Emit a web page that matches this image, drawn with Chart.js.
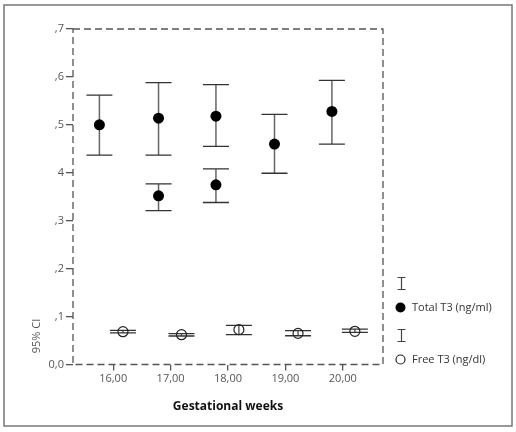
<!DOCTYPE html>
<html>
<head>
<meta charset="utf-8">
<script src="https://cdn.jsdelivr.net/npm/chart.js@4/dist/chart.umd.min.js"></script>
<style>
  html, body { margin: 0; padding: 0; background: #fff; }
  #wrap { width: 516px; height: 432px; }
</style>
</head>
<body>
<div id="wrap"><canvas id="c" width="516" height="432"></canvas></div>
<script>
// data
const xTicks = [16, 17, 18, 19, 20];
const xTickLabels = ['16,00', '17,00', '18,00', '19,00', '20,00'];
const yTicks = [0, 0.1, 0.2, 0.3, 0.4, 0.5, 0.6, 0.7];
const yTickLabels = ['0,0', ',1', ',2', ',3', '4', ',5', ',6', ',7'];

// Total T3 (ng/ml): mean and 95% CI
const totalX    = [15.76, 16.79, 16.79, 17.79, 17.79, 18.81, 19.81];
const totalMean = [0.500, 0.514, 0.352, 0.518, 0.375, 0.460, 0.528];
const totalLow  = [0.437, 0.437, 0.321, 0.455, 0.338, 0.399, 0.460];
const totalHigh = [0.562, 0.588, 0.377, 0.584, 0.408, 0.522, 0.593];

// Free T3 (ng/dl): mean and 95% CI
const freeX    = [16.17, 17.19, 18.19, 19.22, 20.21];
const freeMean = [0.0685, 0.0622, 0.0727, 0.065, 0.0693];
const freeLow  = [0.0658, 0.0595, 0.0622, 0.060, 0.0672];
const freeHigh = [0.0714, 0.0643, 0.0818, 0.0706, 0.074];

const FONT = '"Open Sans", "Noto Sans", sans-serif';
const GREY = '#555';

function pts(xs, ys) {
  return xs.map((x, i) => ({ x: x, y: ys[i] }));
}

// error bars + frame + legend
const extras = {
  id: 'extras',
  beforeDraw(chart) {
    const ctx = chart.ctx;
    ctx.save();
    ctx.fillStyle = '#fff';
    ctx.fillRect(0, 0, chart.width, chart.height);
    ctx.strokeStyle = '#777';
    ctx.lineWidth = 1.5;
    ctx.strokeRect(4, 5, 508, 421);
    ctx.restore();
  },
  beforeDatasetsDraw(chart) {
    const ctx = chart.ctx;
    const xs = chart.scales.x, ys = chart.scales.y;
    const a = chart.chartArea;
    ctx.save();
    // dashed plot frame
    ctx.strokeStyle = GREY;
    ctx.lineWidth = 1.3;
    ctx.setLineDash([7, 4]);
    ctx.strokeRect(a.left, a.top, a.right - a.left, a.bottom - a.top);
    ctx.setLineDash([]);

    const bars = [
      [totalX, totalLow, totalHigh],
      [freeX, freeLow, freeHigh]
    ];
    bars.forEach(([bx, lo, hi]) => {
      bx.forEach((x, i) => {
        const px = xs.getPixelForValue(x);
        const y1 = ys.getPixelForValue(lo[i]);
        const y2 = ys.getPixelForValue(hi[i]);
        ctx.strokeStyle = '#666';
        ctx.lineWidth = 1.5;
        ctx.beginPath();
        ctx.moveTo(px, y1);
        ctx.lineTo(px, y2);
        ctx.stroke();
        ctx.strokeStyle = '#333';
        ctx.lineWidth = 1.3;
        ctx.beginPath();
        ctx.moveTo(px - 13, y1);
        ctx.lineTo(px + 13, y1);
        ctx.moveTo(px - 13, y2);
        ctx.lineTo(px + 13, y2);
        ctx.stroke();
      });
    });
    ctx.restore();
  },
  afterDraw(chart) {
    const ctx = chart.ctx;
    ctx.save();
    // y axis title
    ctx.fillStyle = GREY;
    ctx.font = '11px ' + FONT;
    ctx.textAlign = 'center';
    ctx.textBaseline = 'middle';
    ctx.translate(37, 336);
    ctx.rotate(-Math.PI / 2);
    ctx.fillText('95% CI', 0, 0);
    ctx.restore();

    // legend
    ctx.save();
    const lx = 401.5;
    function errIcon(y1, y2) {
      ctx.strokeStyle = '#444';
      ctx.lineWidth = 1.2;
      ctx.beginPath();
      ctx.moveTo(lx, y1); ctx.lineTo(lx, y2);
      ctx.moveTo(lx - 4, y1); ctx.lineTo(lx + 4, y1);
      ctx.moveTo(lx - 4, y2); ctx.lineTo(lx + 4, y2);
      ctx.stroke();
    }
    errIcon(277.5, 289.5);
    errIcon(329.5, 341.5);
    ctx.fillStyle = '#000';
    ctx.beginPath();
    ctx.arc(400.5, 307.5, 5, 0, Math.PI * 2);
    ctx.fill();
    ctx.strokeStyle = '#222';
    ctx.lineWidth = 1.2;
    ctx.beginPath();
    ctx.arc(400.5, 359.5, 4.5, 0, Math.PI * 2);
    ctx.stroke();
    ctx.fillStyle = '#333';
    ctx.font = '11px ' + FONT;
    ctx.textAlign = 'left';
    ctx.textBaseline = 'middle';
    ctx.fillText('Total T3 (ng/ml)', 412, 308);
    ctx.fillText('Free T3 (ng/dl)', 412, 360);
    ctx.restore();
  }
};

new Chart(document.getElementById('c'), {
  type: 'scatter',
  data: {
    datasets: [
      {
        label: 'Total T3 (ng/ml)',
        data: pts(totalX, totalMean),
        pointStyle: 'circle',
        pointRadius: 5.5,
        pointBackgroundColor: '#000',
        pointBorderColor: '#000',
        pointBorderWidth: 0
      },
      {
        label: 'Free T3 (ng/dl)',
        data: pts(freeX, freeMean),
        pointStyle: 'circle',
        pointRadius: 5,
        pointBackgroundColor: 'rgba(0,0,0,0)',
        pointBorderColor: '#222',
        pointBorderWidth: 1.2
      }
    ]
  },
  options: {
    responsive: false,
    animation: false,
    devicePixelRatio: 1,
    layout: { padding: { top: 29, right: 133, left: 0, bottom: 0 } },
    plugins: { legend: { display: false }, tooltip: { enabled: false } },
    scales: {
      x: {
        type: 'linear',
        min: 15.3,
        max: 20.7,
        afterBuildTicks: (s) => { s.ticks = xTicks.map(v => ({ value: v })); },
        afterFit: (s) => { s.height = 67.5; },
        border: { display: false },
        grid: { drawOnChartArea: false, drawTicks: true, tickLength: 6, tickColor: GREY, lineWidth: 1.3 },
        ticks: {
          color: GREY,
          font: { family: FONT, size: 11 },
          padding: 2,
          maxRotation: 0,
          callback: (v) => xTickLabels[xTicks.indexOf(v)]
        },
        title: {
          display: true,
          text: 'Gestational weeks',
          color: '#111',
          font: { family: FONT, size: 12, weight: 'bold' },
          padding: { top: 0, bottom: 18 }
        }
      },
      y: {
        type: 'linear',
        min: 0,
        max: 0.7,
        afterBuildTicks: (s) => { s.ticks = yTicks.map(v => ({ value: v })); },
        afterFit: (s) => { s.width = 73; },
        border: { display: false },
        grid: { drawOnChartArea: false, drawTicks: true, tickLength: 7, tickColor: GREY, lineWidth: 1.3 },
        ticks: {
          color: GREY,
          font: { family: FONT, size: 11 },
          padding: 2,
          callback: (v) => {
            const i = yTicks.findIndex(t => Math.abs(t - v) < 1e-6);
            return yTickLabels[i];
          }
        }
      }
    }
  },
  plugins: [extras]
});
</script>
</body>
</html>
